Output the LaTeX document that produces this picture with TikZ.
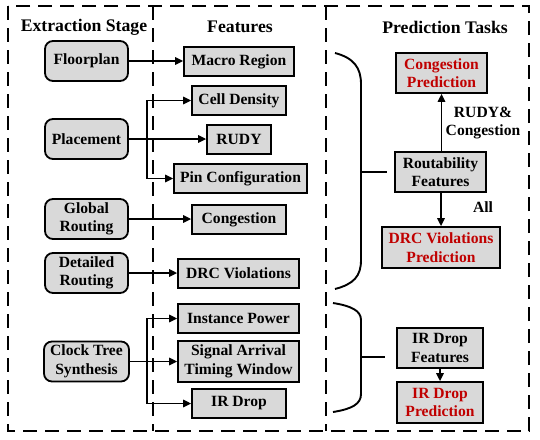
\documentclass[tikz,border=0pt]{standalone}
\usepackage{fontspec}
\setmainfont{Liberation Serif}
\usetikzlibrary{arrows.meta}
\definecolor{boxgray}{RGB}{217,217,217}
\definecolor{predred}{RGB}{192,0,0}
\begin{document}
\begin{tikzpicture}[x=1pt,y=-1pt,
  frame/.style={line width=1.9pt,dash pattern=on 14pt off 8pt},
  stagebox/.style={draw,line width=1.8pt,fill=boxgray,rounded corners=8pt,minimum width=83pt,minimum height=40pt,inner sep=1pt,align=center,font=\fontsize{15.6}{18.5}\selectfont\bfseries},
  featbox/.style={draw,line width=1.8pt,fill=boxgray,minimum height=29pt,inner sep=1pt,align=center,font=\fontsize{15.6}{18.5}\selectfont\bfseries},
  predbox/.style={featbox,minimum height=40pt},
  redtxt/.style={text=predred},
  header/.style={font=\fontsize{17.7}{20}\selectfont\bfseries},
  lbl/.style={align=center,font=\fontsize{15.6}{18.5}\selectfont\bfseries},
  arr/.style={line width=1.6pt,-{Triangle[length=8pt,width=7.5pt]}},
  brace/.style={line width=1.9pt}]
\useasboundingbox (0,0) rectangle (540,439);
\fill[white] (0,0) rectangle (540,439);
% frames
\draw[frame] (8,6) rectangle (529,431);
\draw[frame] (153,6) -- (153,431);
\draw[frame] (326,6) -- (326,431);
% headers
\node[header] (h1) at (84,27) {Extraction Stage};
\node[header] (h2) at (240,27) {Features};
\node[header] (h3) at (445,27) {Prediction Tasks};
% stage boxes
\node[stagebox] (floor) at (86.5,61) {Floorplan};
\node[stagebox] (place) at (86.5,139) {Placement};
\node[stagebox] (glob) at (86.5,219) {Global\\Routing};
\node[stagebox] (det) at (86.5,273) {Detailed\\Routing};
\node[stagebox,minimum width=85pt] (cts) at (86.5,361.5) {Clock Tree\\Synthesis};
% feature boxes
\node[featbox,minimum width=110pt] (macro) at (239,61.5) {Macro Region};
\node[featbox,minimum width=94pt] (cell) at (239,100.5) {Cell Density};
\node[featbox,minimum width=64pt] (rudy) at (239,139.5) {RUDY};
\node[featbox,minimum width=133pt] (pin) at (240.5,178.5) {Pin Configuration};
\node[featbox,minimum width=94pt] (cong) at (239,219.5) {Congestion};
\node[featbox,minimum width=121pt] (drc) at (238.5,273.5) {DRC Violations};
\node[featbox,minimum width=121pt] (inst) at (238.5,318.5) {Instance Power};
\node[featbox,minimum width=121pt,minimum height=41pt] (sig) at (238.5,361.5) {Signal Arrival\\Timing Window};
\node[featbox,minimum width=94pt] (ir) at (239,403.5) {IR Drop};
% prediction boxes
\node[predbox,minimum width=91pt,redtxt] (congp) at (441.5,73) {Congestion\\Prediction};
\node[predbox,minimum width=91pt] (rout) at (440.5,172) {Routability\\Features};
\node[predbox,minimum width=118pt,minimum height=41pt,redtxt] (drcp) at (441,247.5) {DRC Violations\\Prediction};
\node[predbox,minimum width=86pt] (irf) at (440,348) {IR Drop\\Features};
\node[predbox,minimum width=86pt,minimum height=41pt,redtxt] (irp) at (440,402.5) {IR Drop\\Prediction};
\node[lbl] (l1) at (483,123) {RUDY\&\\Congestion};
\node[lbl] (l2) at (483,207) {All};
% connectors left
\draw[arr] (floor.east) -- (macro.west |- floor.east);
\draw[arr] (place.east) -- (rudy.west |- place.east);
\coordinate (b1) at (147,139);
\draw[arr] (b1) |- (cell.west);
\draw[arr] (b1) |- (pin.west);
\draw[arr] (glob.east) -- (cong.west |- glob.east);
\draw[arr] (det.east) -- (drc.west |- det.east);
\draw[arr] (cts.east) -- (sig.west);
\coordinate (b2) at (147,361.5);
\draw[arr] (b2) |- (inst.west);
\draw[arr] (b2) |- (ir.west);
% right connectors
\draw[arr] (rout.north -| congp.south) -- (congp.south);
\draw[arr] (rout.south -| drcp.north) -- (drcp.north);
\draw[arr] (irf.south) -- (irp.north);
% braces
\coordinate (t1) at (387,172);
\coordinate (t2) at (385,357);
\draw[brace] (335,53) .. controls (354,58) and (361,68) .. (361,84) -- (361,260) .. controls (361,276) and (354,284) .. (335,289);
\draw[brace] (361,172) -- (t1);
\draw[brace] (333,303) .. controls (352,306) and (361,311) .. (361,320) -- (361,394) .. controls (361,404) and (352,409) .. (333,412);
\draw[brace] (361,357) -- (t2);
\end{tikzpicture}
\end{document}
